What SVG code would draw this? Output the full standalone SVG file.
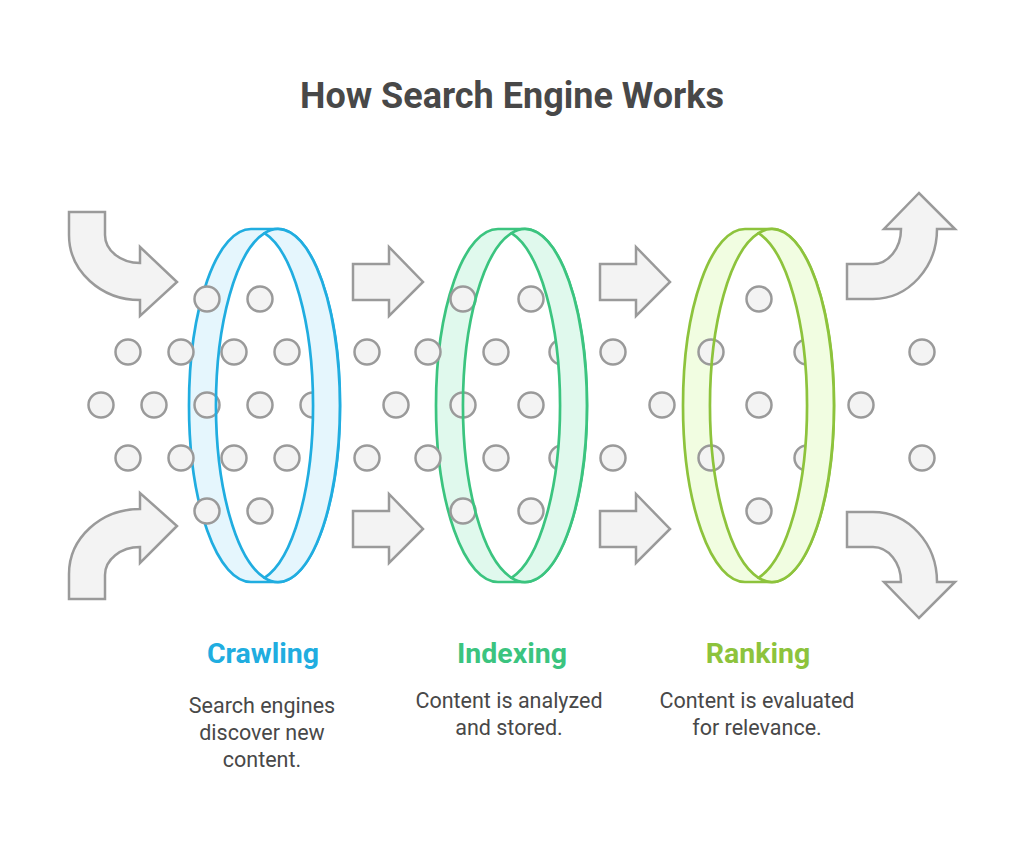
<svg xmlns="http://www.w3.org/2000/svg" width="1024" height="847" viewBox="0 0 1024 847">
  <defs>
    <style>
      .arrow { fill: #f3f3f3; stroke: #9a9a9a; stroke-width: 2.5; stroke-linejoin: miter; }
      .dot { fill: #f3f3f3; stroke: #9a9a9a; stroke-width: 2.5; }
      .title { font-family: Roboto, "Liberation Sans", sans-serif; font-weight: 700; font-size: 36px; fill: #484848; text-anchor: middle; }
      .label { font-family: Roboto, "Liberation Sans", sans-serif; font-weight: 700; font-size: 28.5px; text-anchor: middle; }
      .desc { font-family: Roboto, "Liberation Sans", sans-serif; font-size: 21.5px; fill: #484848; text-anchor: middle; }
      .blue { stroke: #20ade0; }
      .green { stroke: #3bc47f; }
      .lime { stroke: #8dc33c; }
      .ring { stroke-width: 2.7; stroke-linejoin: round; }
      .lens { fill: #ffffff; stroke: none; }
    </style>
    <path id="hull" d="M -13.5,-176.5 H 13.5 A 62 176.5 0 0 1 13.5,176.5 H -13.5 A 62 176.5 0 0 1 -13.5,-176.5 Z"/>
    <path id="lensShape" d="M 0,-172.3 A 62 176.5 0 0 1 0,172.3 A 62 176.5 0 0 1 0,-172.3 Z"/>
    <path id="front" d="M 0,-172.3 A 62 176.5 0 1 1 0,172.3 A 62 176.5 0 0 0 0,-172.3 Z"/>
    <path id="innerArc" d="M 0,-172.3 A 62 176.5 0 0 0 0,172.3"/>
  </defs>

  <rect width="1024" height="847" fill="#ffffff"/>

  <g id="title">
    <text class="title" x="512" y="108">How Search Engine Works</text>
  </g>

  <!-- ring backs -->
  <g id="ring-backs">
    <g transform="translate(264.5,405.5)">
      <use href="#hull" class="ring blue" fill="#e5f6fd"/>
      <use href="#lensShape" class="lens"/>
    </g>
    <g transform="translate(511.5,405.5)">
      <use href="#hull" class="ring green" fill="#e0f9ed"/>
      <use href="#lensShape" class="lens"/>
    </g>
    <g transform="translate(758.5,405.5)">
      <use href="#hull" class="ring lime" fill="#f1fde1"/>
      <use href="#lensShape" class="lens"/>
    </g>
  </g>

  <g id="connectors">
    <!-- left curved arrows -->
    <path class="arrow" d="M 69,212 H 105 V 235 A 35 28 0 0 0 140,263 V 247 L 177,282 L 140,316 V 300 A 71 65 0 0 1 69,235 Z"/>
    <path class="arrow" d="M 69,599 H 105 V 575 A 35 28 0 0 1 140,547 V 563 L 177,526 L 140,493 V 509 A 71 65 0 0 0 69,574 Z"/>
    <!-- straight arrows -->
    <path class="arrow" d="M 353,264 H 389 V 247 L 423,282 L 389,316 V 300 H 353 Z"/>
    <path class="arrow" d="M 353,511 H 389 V 494 L 423,529 L 389,563 V 547 H 353 Z"/>
    <path class="arrow" d="M 600,264 H 636 V 247 L 670,282 L 636,316 V 300 H 600 Z"/>
    <path class="arrow" d="M 600,511 H 636 V 494 L 670,529 L 636,563 V 547 H 600 Z"/>
    <!-- right curved arrows -->
    <path class="arrow" d="M 847,264 H 873 A 28 35 0 0 0 901,229 H 884 L 919,193 L 955,229 H 937 A 64 70 0 0 1 873,299 H 847 Z"/>
    <path class="arrow" d="M 847,547 H 873 A 28 35 0 0 1 901,582 H 884 L 919,618 L 955,582 H 937 A 64 70 0 0 0 873,512 H 847 Z"/>
  </g>

  <g id="dots">
    <circle class="dot" cx="207" cy="299" r="12.5"/>
    <circle class="dot" cx="260" cy="299" r="12.5"/>
    <circle class="dot" cx="463" cy="299" r="12.5"/>
    <circle class="dot" cx="531" cy="299" r="12.5"/>
    <circle class="dot" cx="759" cy="299" r="12.5"/>

    <circle class="dot" cx="128" cy="352" r="12.5"/>
    <circle class="dot" cx="181" cy="352" r="12.5"/>
    <circle class="dot" cx="234" cy="352" r="12.5"/>
    <circle class="dot" cx="287" cy="352" r="12.5"/>
    <circle class="dot" cx="367" cy="352" r="12.5"/>
    <circle class="dot" cx="428" cy="352" r="12.5"/>
    <circle class="dot" cx="496" cy="352" r="12.5"/>
    <circle class="dot" cx="562" cy="352" r="12.5"/>
    <circle class="dot" cx="613" cy="352" r="12.5"/>
    <circle class="dot" cx="711" cy="352" r="12.5"/>
    <circle class="dot" cx="807" cy="352" r="12.5"/>
    <circle class="dot" cx="922" cy="352" r="12.5"/>

    <circle class="dot" cx="101" cy="405" r="12.5"/>
    <circle class="dot" cx="154" cy="405" r="12.5"/>
    <circle class="dot" cx="207" cy="405" r="12.5"/>
    <circle class="dot" cx="260" cy="405" r="12.5"/>
    <circle class="dot" cx="313" cy="405" r="12.5"/>
    <circle class="dot" cx="396" cy="405" r="12.5"/>
    <circle class="dot" cx="463" cy="405" r="12.5"/>
    <circle class="dot" cx="531" cy="405" r="12.5"/>
    <circle class="dot" cx="662" cy="405" r="12.5"/>
    <circle class="dot" cx="759" cy="405" r="12.5"/>
    <circle class="dot" cx="861" cy="405" r="12.5"/>

    <circle class="dot" cx="128" cy="458" r="12.5"/>
    <circle class="dot" cx="181" cy="458" r="12.5"/>
    <circle class="dot" cx="234" cy="458" r="12.5"/>
    <circle class="dot" cx="287" cy="458" r="12.5"/>
    <circle class="dot" cx="367" cy="458" r="12.5"/>
    <circle class="dot" cx="428" cy="458" r="12.5"/>
    <circle class="dot" cx="496" cy="458" r="12.5"/>
    <circle class="dot" cx="562" cy="458" r="12.5"/>
    <circle class="dot" cx="613" cy="458" r="12.5"/>
    <circle class="dot" cx="711" cy="458" r="12.5"/>
    <circle class="dot" cx="807" cy="458" r="12.5"/>
    <circle class="dot" cx="922" cy="458" r="12.5"/>

    <circle class="dot" cx="207" cy="511" r="12.5"/>
    <circle class="dot" cx="260" cy="511" r="12.5"/>
    <circle class="dot" cx="463" cy="511" r="12.5"/>
    <circle class="dot" cx="531" cy="511" r="12.5"/>
    <circle class="dot" cx="759" cy="511" r="12.5"/>
  </g>

  <g id="crawling">
    <g transform="translate(264.5,405.5)">
      <use href="#front" class="ring blue" fill="#e5f6fd"/>
      <use href="#innerArc" class="ring blue" fill="none"/>
    </g>
    <text class="label" x="263" y="663" fill="#20ade0">Crawling</text>
    <text class="desc" x="262" y="713">Search engines</text>
    <text class="desc" x="262" y="740">discover new</text>
    <text class="desc" x="262" y="767">content.</text>
  </g>

  <g id="indexing">
    <g transform="translate(511.5,405.5)">
      <use href="#front" class="ring green" fill="#e0f9ed"/>
      <use href="#innerArc" class="ring green" fill="none"/>
    </g>
    <text class="label" x="512" y="663" fill="#3bc47f">Indexing</text>
    <text class="desc" x="509" y="708">Content is analyzed</text>
    <text class="desc" x="509" y="735">and stored.</text>
  </g>

  <g id="ranking">
    <g transform="translate(758.5,405.5)">
      <use href="#front" class="ring lime" fill="#f1fde1"/>
      <use href="#innerArc" class="ring lime" fill="none"/>
    </g>
    <text class="label" x="758" y="663" fill="#8dc33c">Ranking</text>
    <text class="desc" x="757" y="708">Content is evaluated</text>
    <text class="desc" x="757" y="735">for relevance.</text>
  </g>
</svg>
